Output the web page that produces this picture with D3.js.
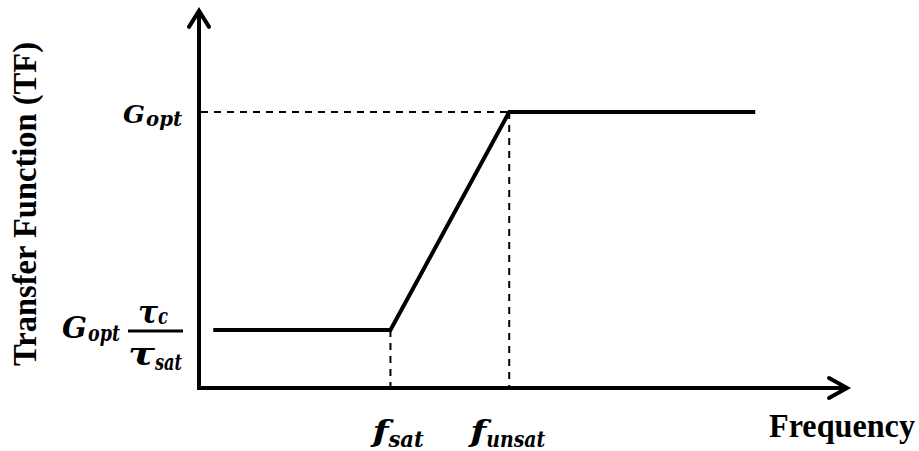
<!DOCTYPE html>
<html><head><meta charset="utf-8">
<script src="https://cdn.jsdelivr.net/npm/d3@7/dist/d3.min.js"></script>
<style>body{margin:0;background:#fff}</style>
</head><body>
<svg id="c" width="919" height="451"></svg>
<script>
// Data (abstract units): frequency breakpoints and transfer-function levels
const freqPoints = [0.022, 0.295, 0.478, 0.857];   // start, f_sat, f_unsat, end
const tfValues   = [0.21, 0.21, 1.0, 1.0];         // low level, G_opt
const xTickLabels = [{pos: 0.295, main: "f", sub: "sat"}, {pos: 0.478, main: "f", sub: "unsat"}];
const yLevels = {low: 0.21, high: 1.0};

const svg = d3.select("#c");
const x = d3.scaleLinear().domain([0, 1]).range([199, 848]);
const y = d3.scaleLinear().domain([0, 1]).range([388, 112]);
const yTop = y(1.37);

const mathFont = "'DejaVu Serif', serif";

function mtext(str, px, py, size, len) {
  const t = svg.append("text").attr("x", px).attr("y", py)
    .attr("font-family", mathFont).attr("font-weight", "bold").attr("font-style", "italic")
    .attr("font-size", size).text(str);
  if (len) t.attr("textLength", len).attr("lengthAdjust", "spacingAndGlyphs");
  return t;
}

// Axes
svg.append("line").attr("x1", x(0)).attr("y1", y(0) + 2).attr("x2", x(0)).attr("y2", yTop + 2)
  .attr("stroke", "#000").attr("stroke-width", 4);
svg.append("line").attr("x1", x(0) - 2).attr("y1", y(0)).attr("x2", x(1) - 2).attr("y2", y(0))
  .attr("stroke", "#000").attr("stroke-width", 4);
// arrowheads
svg.append("path").attr("d", `M${x(0)-10},${yTop+17}L${x(0)},${yTop+1}L${x(0)+10},${yTop+17}`)
  .attr("fill", "none").attr("stroke", "#000").attr("stroke-width", 4).attr("stroke-linecap", "round");
svg.append("path").attr("d", `M${x(1)-19},${y(0)-10}L${x(1)-1},${y(0)}L${x(1)-19},${y(0)+10}`)
  .attr("fill", "none").attr("stroke", "#000").attr("stroke-width", 4).attr("stroke-linecap", "round");

// Dashed guides
const dash = "7,6";
svg.append("line").attr("x1", x(0) + 2).attr("x2", x(freqPoints[2])).attr("y1", y(yLevels.high)).attr("y2", y(yLevels.high))
  .attr("stroke", "#000").attr("stroke-width", 2).attr("stroke-dasharray", dash);
svg.append("line").attr("x1", x(freqPoints[1])).attr("x2", x(freqPoints[1])).attr("y1", y(yLevels.low)).attr("y2", y(0))
  .attr("stroke", "#000").attr("stroke-width", 2).attr("stroke-dasharray", dash);
svg.append("line").attr("x1", x(freqPoints[2])).attr("x2", x(freqPoints[2])).attr("y1", y(yLevels.high)).attr("y2", y(0))
  .attr("stroke", "#000").attr("stroke-width", 2).attr("stroke-dasharray", dash);

// Transfer function curve
const line = d3.line().x((d, i) => x(freqPoints[i])).y(d => y(d));
svg.append("path").datum(tfValues).attr("d", line)
  .attr("fill", "none").attr("stroke", "#000").attr("stroke-width", 4).attr("stroke-linejoin", "miter");

// X tick labels
xTickLabels.forEach((t, i) => {
  const left = x(t.pos) + (i === 0 ? -18 : -39);
  mtext(t.main, left, 442, 30, 16);
  mtext(t.sub, left + 16, 447, 23, t.sub.length * 11.8);
});

// Y labels: G_opt
mtext("G", 123, 123, 25, 22);
mtext("opt", 146, 126, 21, 36);
// G_opt * tau_c / tau_sat
mtext("G", 62, 338, 29, 25);
mtext("opt", 88, 341, 22, 32);
svg.append("line").attr("x1", 128).attr("x2", 183).attr("y1", y(yLevels.low) + 1).attr("y2", y(yLevels.low) + 1)
  .attr("stroke", "#000").attr("stroke-width", 3);
mtext("τ", 138, 323, 31, 20);
mtext("c", 158, 324, 22, 10);
mtext("τ", 128, 365, 31, 27);
mtext("sat", 155, 370, 22, 27);

// Axis titles
svg.append("text").attr("x", 769).attr("y", 437)
  .attr("font-family", "'Liberation Serif', serif").attr("font-weight", "bold").attr("font-size", 33)
  .attr("textLength", 146).attr("lengthAdjust", "spacingAndGlyphs").text("Frequency");
svg.append("text").attr("transform", "translate(36,366) rotate(-90)")
  .attr("font-family", "'Liberation Serif', serif").attr("font-weight", "bold").attr("font-size", 33)
  .attr("textLength", 324).attr("lengthAdjust", "spacingAndGlyphs").text("Transfer Function (TF)");
</script>
</body></html>
